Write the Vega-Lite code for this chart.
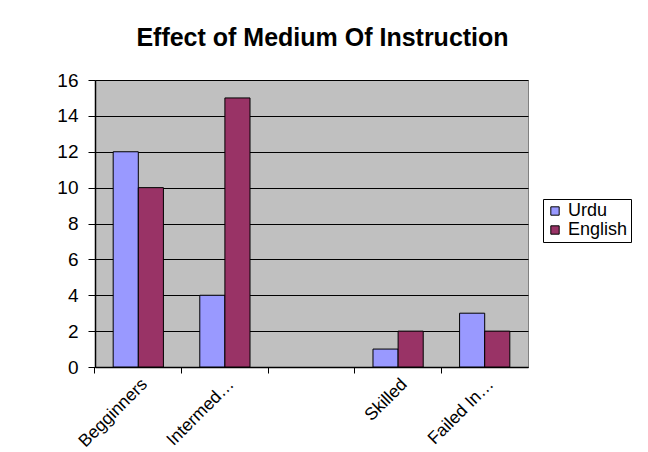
{
  "$schema": "https://vega.github.io/schema/vega-lite/v6.json",
  "width": 433,
  "height": 287,
  "autosize": "none",
  "padding": {"left": 95, "top": 80, "right": 120, "bottom": 85},
  "background": "white",
  "title": {"text": "Effect of Medium Of Instruction", "fontSize": 25, "font": "Liberation Sans", "fontWeight": "bold", "color": "black", "anchor": "middle", "offset": 20, "dx": 11},
  "data": {"values": [
    {"level": "Begginners", "medium": "Urdu", "count": 12},
    {"level": "Begginners", "medium": "English", "count": 10},
    {"level": "Intermed…", "medium": "Urdu", "count": 4},
    {"level": "Intermed…", "medium": "English", "count": 15},
    {"level": "Skilled", "medium": "Urdu", "count": 1},
    {"level": "Skilled", "medium": "English", "count": 2},
    {"level": "Failed In…", "medium": "Urdu", "count": 3},
    {"level": "Failed In…", "medium": "English", "count": 2}
  ]},
  "mark": {"type": "bar", "stroke": "black", "strokeWidth": 1},
  "encoding": {
    "x": {"field": "level", "type": "nominal", "sort": null, "title": null,
      "scale": {"domain": ["Begginners", "Intermed…", " ", "Skilled", "Failed In…"], "paddingInner": 0.42, "paddingOuter": 0.21},
      "axis": {"labelAngle": -45, "labelFontSize": 17.5, "labelFont": "Liberation Sans", "labelColor": "black", "domainColor": "black", "domainWidth": 1.5, "tickColor": "black", "tickSize": 6, "labelPadding": 2, "bandPosition": -0.363}},
    "xOffset": {"field": "medium", "type": "nominal", "sort": ["Urdu", "English"]},
    "y": {"field": "count", "type": "quantitative", "title": null,
      "scale": {"domain": [0, 16], "nice": false},
      "axis": {"values": [0, 2, 4, 6, 8, 10, 12, 14, 16], "labelFontSize": 19, "labelFont": "Liberation Sans", "labelColor": "black", "domainColor": "black", "domainWidth": 1.5, "tickColor": "black", "tickSize": 7, "labelPadding": 10, "grid": true, "gridColor": "black", "gridOpacity": 1, "gridWidth": 1}},
    "color": {"field": "medium", "type": "nominal", "sort": ["Urdu", "English"],
      "scale": {"domain": ["Urdu", "English"], "range": ["#9999FF", "#993366"]},
      "legend": {"title": null, "orient": "none", "legendX": 448, "legendY": 119, "strokeColor": "black", "padding": 3, "symbolType": "square", "symbolSize": 70, "symbolStrokeColor": "black", "symbolStrokeWidth": 1, "labelFontSize": 18, "labelFont": "Liberation Sans", "labelColor": "black", "rowPadding": 1, "symbolOpacity": 1}}
  },
  "config": {"view": {"fill": "#C0C0C0", "stroke": "#808080", "strokeWidth": 1}}
}
